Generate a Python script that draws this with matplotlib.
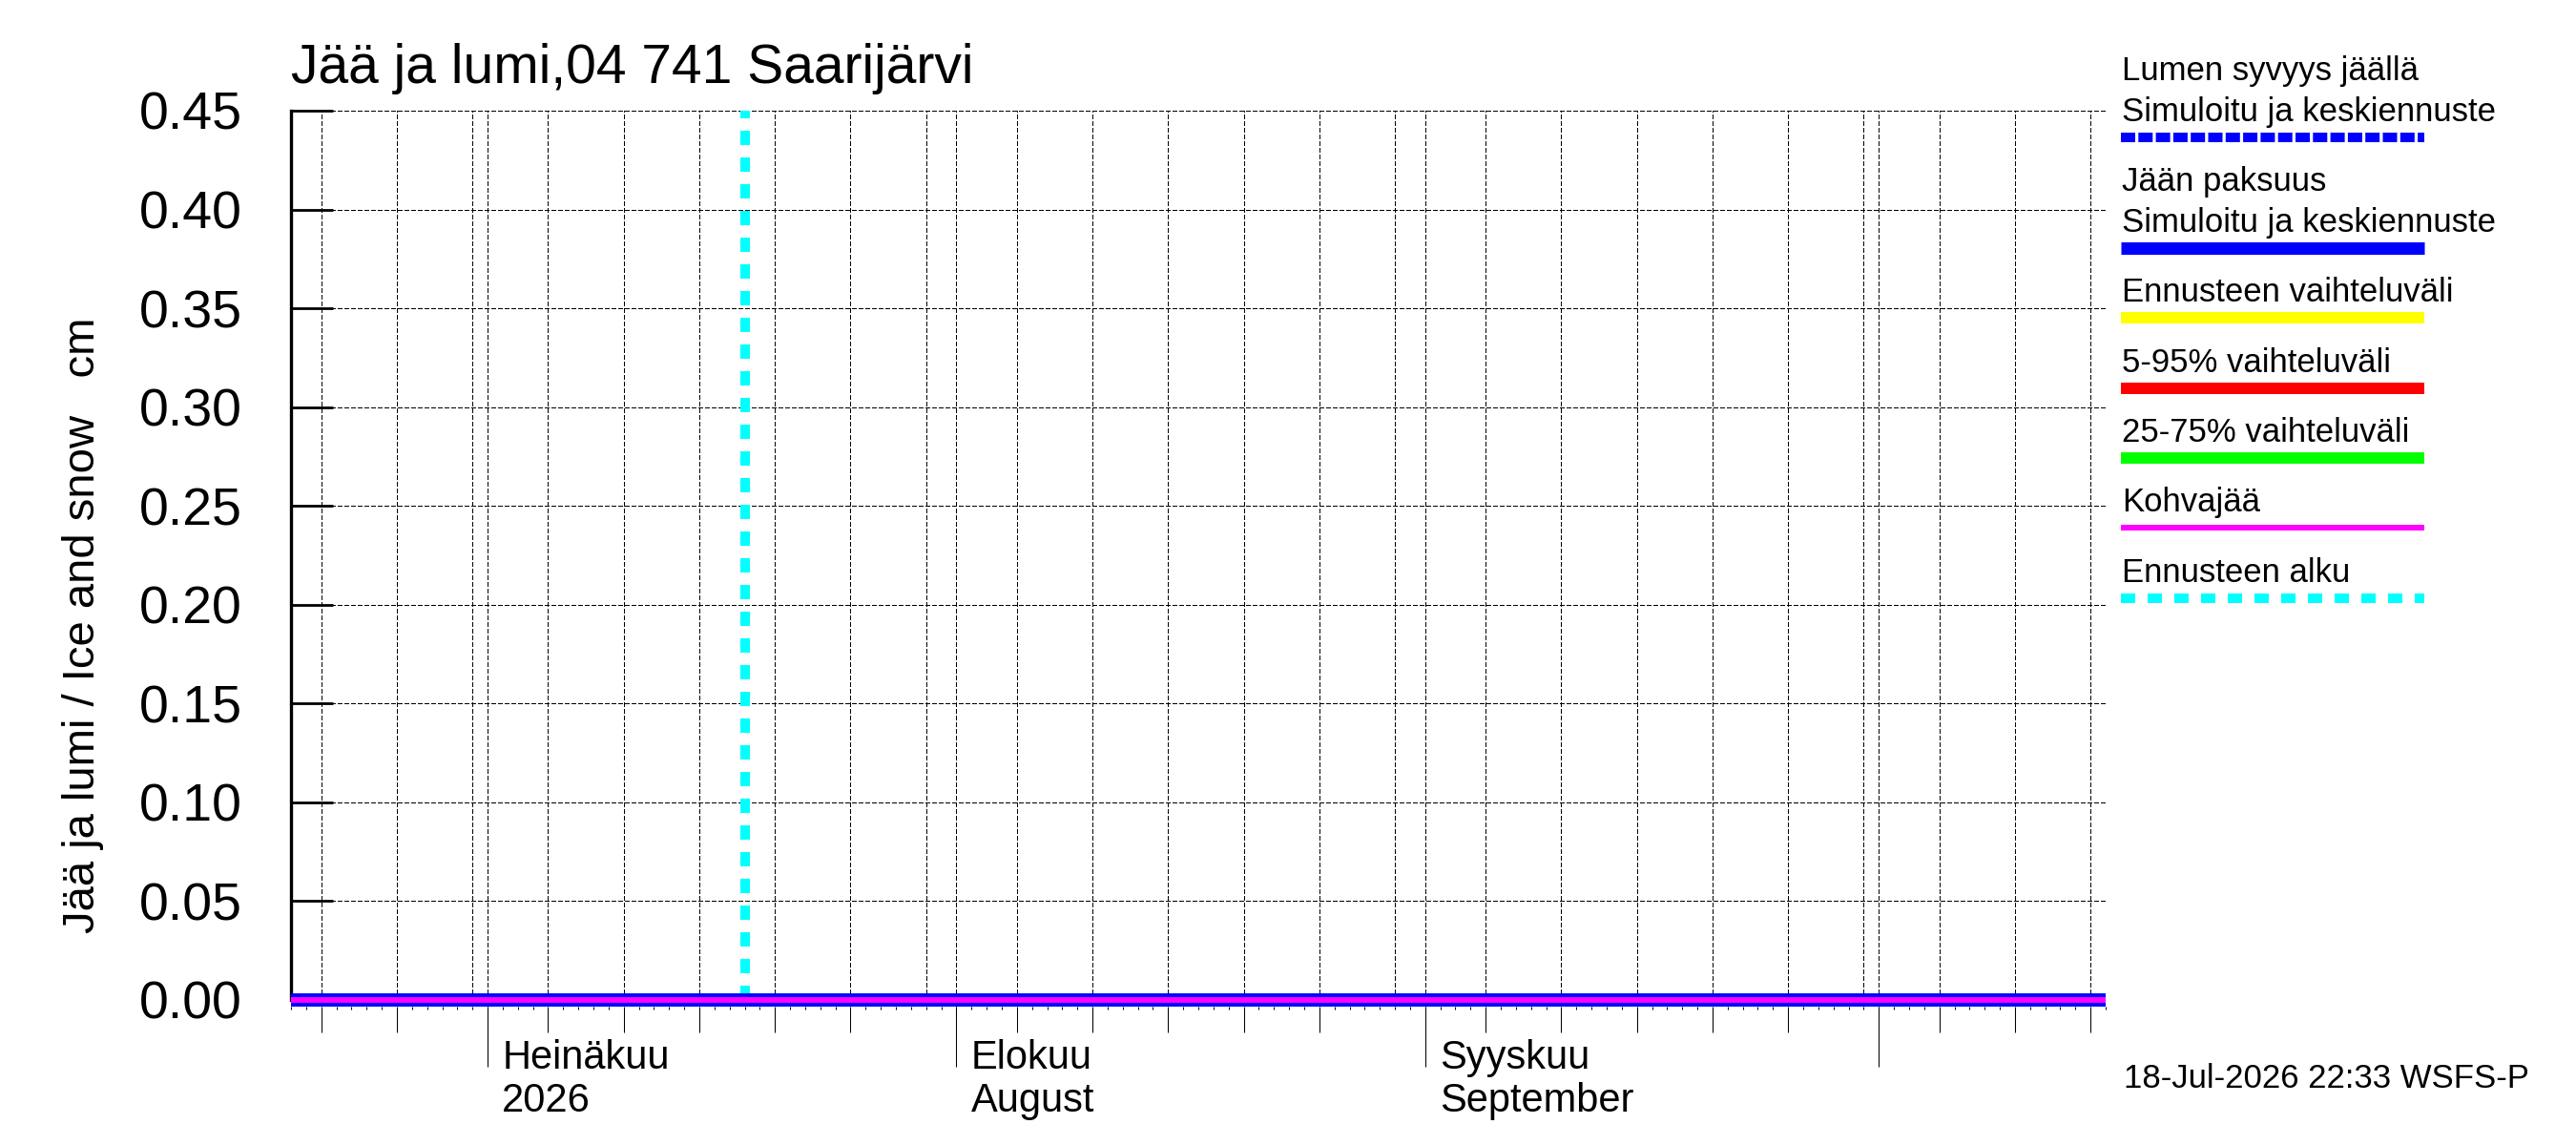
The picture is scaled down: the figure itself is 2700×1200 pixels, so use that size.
import matplotlib
matplotlib.use("Agg")
import matplotlib.pyplot as plt
import matplotlib.dates as mdates
from matplotlib.lines import Line2D
from matplotlib.ticker import FixedLocator, FormatStrFormatter, NullFormatter
import pandas as pd

plt.rcParams['font.family'] = ['Liberation Sans', 'DejaVu Sans']

# values
dates = pd.to_datetime(['2026-06-18', '2026-10-16'])
snow_depth = [0.0, 0.0]
ice_thickness = [0.0, 0.0]
slush_ice = [0.0, 0.0]
forecast_start = pd.Timestamp('2026-07-18')
forecast_line_y = [0.0, 0.45]

y_ticks = [0.00, 0.05, 0.10, 0.15, 0.20, 0.25, 0.30, 0.35, 0.40, 0.45]
month_starts = pd.to_datetime(['2026-07-01', '2026-08-01', '2026-09-01', '2026-10-01'])
month_fi = ['Heinäkuu', 'Elokuu', 'Syyskuu', '']
month_en = ['2026', 'August', 'September', '']

title = 'Jää ja lumi,04 741 Saarijärvi'
ylabel = 'Jää ja lumi / Ice and snow   cm'
footer = '18-Jul-2026 22:33 WSFS-P'

legend_labels = [
    ['Lumen syvyys jäällä', 'Simuloitu ja keskiennuste'],
    ['Jään paksuus', 'Simuloitu ja keskiennuste'],
    ['Ennusteen vaihteluväli'],
    ['5-95% vaihteluväli'],
    ['25-75% vaihteluväli'],
    ['Kohvajää'],
    ['Ennusteen alku'],
]
legend_colors = ['#0000ff', '#0000ff', '#ffff00', '#ff0000', '#00ff00', '#ff00ff', '#00ffff']

W, H = 2700, 1200


def fx(px):
    return px / W


def fy(py):
    return 1 - py / H


fig = plt.figure(figsize=(27, 12), dpi=100)
ax = fig.add_axes([fx(305), fy(1055), fx(2207) - fx(305), fy(116) - fy(1055)])

x0 = mdates.date2num(dates[0])
x1 = mdates.date2num(dates[-1])
ax.set_xlim(x0, x1)
ax.set_ylim(-0.0034, 0.45)

# grid: every 5th day, month starts and the right edge
grid_kw = dict(color='black', lw=0.72, ls=(0, (5, 2.3)), antialiased=False, zorder=1)
all_days = pd.date_range(dates[0], dates[-1], freq='D')
grid_days = [d for d in all_days if d.day in (1, 5, 10, 15, 20, 25, 30)]
for gx in mdates.date2num(grid_days).tolist() + [x1]:
    if gx > x0:
        ax.axvline(gx, **grid_kw)
ax.yaxis.grid(True, **grid_kw)
ax.set_axisbelow(True)

# series
ax.plot([forecast_start, forecast_start], forecast_line_y, color='#00ffff', lw=7.2,
        ls=(0, (1.5, 1.3)), zorder=2)
ax.plot(dates, snow_depth, color='#0000ff', lw=7.2, ls=(0, (1.5, 0.33)), zorder=3)
ax.plot(dates, ice_thickness, color='#0000ff', lw=10, solid_capstyle='butt', zorder=4)
ax.plot(dates, slush_ice, color='#ff00ff', lw=4.3, solid_capstyle='butt', zorder=5)

# axes styling
for s in ['top', 'right', 'bottom']:
    ax.spines[s].set_visible(False)
ax.spines['left'].set_linewidth(2.4)
ax.spines['left'].set_bounds(0, 0.45)

ax.set_yticks(y_ticks)
ax.yaxis.set_major_formatter(FormatStrFormatter('%.2f'))
ax.tick_params(axis='y', direction='in', length=32, width=2, pad=37, labelsize=40)

ax.xaxis.set_major_locator(mdates.DayLocator(bymonthday=[5, 10, 15, 20, 25]))
ax.xaxis.set_minor_locator(mdates.DayLocator())
ax.xaxis.set_major_formatter(NullFormatter())
ax.xaxis.set_minor_formatter(NullFormatter())
ax.tick_params(axis='x', which='major', direction='out', length=19.5, width=0.75)
ax.tick_params(axis='x', which='minor', direction='out', length=2.2, width=0.75)

sec = ax.secondary_xaxis('bottom')
sec.xaxis.set_major_locator(FixedLocator(mdates.date2num(month_starts)))
sec.xaxis.set_major_formatter(NullFormatter())
sec.tick_params(direction='out', length=45, width=0.75)
sec.spines['bottom'].set_visible(False)

trans = ax.get_xaxis_transform()
for d, fi, en in zip(month_starts, month_fi, month_en):
    if not fi:
        continue
    ax.annotate(fi, xy=(mdates.date2num(d), 0), xycoords=trans, xytext=(11, -47),
                textcoords='offset points', ha='left', va='baseline', fontsize=30)
    ax.annotate(en, xy=(mdates.date2num(d), 0), xycoords=trans, xytext=(11, -79),
                textcoords='offset points', ha='left', va='baseline', fontsize=30)

# texts
fig.text(fx(305), fy(87), title, fontsize=41, ha='left', va='baseline')
fig.text(fx(87), fy(655), ylabel, fontsize=34, rotation=90, ha='center', va='center')
fig.text(fx(2226), fy(1140), footer, fontsize=25, ha='left', va='baseline')

# legend drawn at the right
line_y = [144, 260, 333.5, 406.5, 479.5, 553, 626.5]
line_w = [7.2, 9.4, 8.6, 8.6, 8.6, 4.3, 7.2]
line_ls = [(0, (1.5, 0.33)), '-', '-', '-', '-', '-', (0, (1.5, 1.3))]
for labels, col, ly, lw, ls in zip(legend_labels, legend_colors, line_y, line_w, line_ls):
    for k, lab in enumerate(reversed(labels)):
        fig.text(fx(2224), fy(ly - 17 - 43 * k), lab, fontsize=25, ha='left', va='baseline')
    fig.add_artist(Line2D([fx(2223), fx(2541)], [fy(ly), fy(ly)], color=col, lw=lw,
                          ls=ls, solid_capstyle='butt', dash_capstyle='butt',
                          transform=fig.transFigure))

fig.savefig('out.png', dpi=100)
